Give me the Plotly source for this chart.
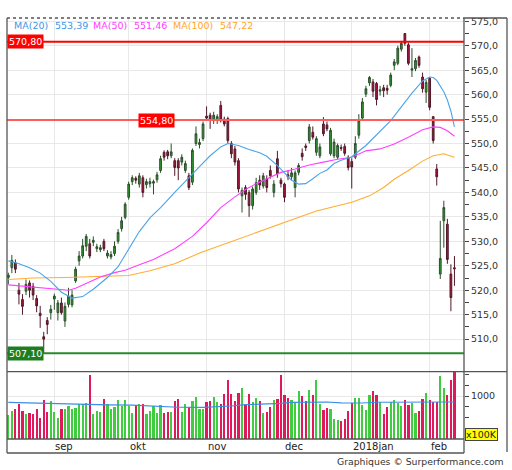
import pandas as pd
import plotly.graph_objects as go

# trading days (Euronext calendar), 15 Aug 2017 .. 12 Feb 2018
dates = [
    d.strftime("%Y-%m-%d")
    for d in pd.bdate_range("2017-08-15", "2018-02-12")
    if d.strftime("%Y-%m-%d") not in ("2017-12-25", "2017-12-26", "2018-01-01")
]

opens = [
    522.6, 524.6, 525.6, 520.0, 518.1, 519.8, 521.5, 520.8, 518.3, 515.3,
    510.5, 513.8, 515.4, 518.2, 515.4, 517.4, 513.7, 517.1, 517.0, 521.9,
    526.0, 527.0, 529.0, 529.5, 529.8, 528.5, 528.3, 530.0, 527.0, 526.8,
    527.5, 530.0, 532.6, 534.9, 539.0, 542.2, 542.9, 541.7, 543.0, 541.6,
    541.8, 541.9, 542.6, 544.5, 548.2, 548.3, 547.5, 546.5, 546.5, 546.2,
    544.5, 543.4, 542.1, 550.0, 549.8, 551.0, 555.6, 555.8, 555.0, 554.8,
    557.8, 555.0, 555.1, 550.0, 548.9, 546.5, 539.3, 541.0, 540.0, 537.3,
    540.0, 542.5, 541.3, 542.8, 544.5, 540.0, 546.9, 542.5, 541.7, 543.6,
    543.2, 541.0, 544.1, 548.0, 549.5, 550.6, 552.3, 548.2, 547.5, 554.0,
    553.8, 547.9, 547.5, 547.2, 549.2, 549.4, 547.2, 546.3, 547.2, 551.7,
    555.2, 560.1, 562.4, 562.6, 562.3, 560.7, 561.4, 561.3, 561.9, 566.0,
    566.4, 569.3, 572.5, 570.2, 565.0, 565.3, 567.7, 563.6, 560.5, 563.3,
    555.5, 544.8, 523.3, 534.2, 533.5, 523.3, 524.6,
]
highs = [
    523.6, 527.2, 526.3, 521.5, 519.2, 522.2, 522.0, 521.5, 519.0, 516.8,
    511.5, 514.5, 517.0, 519.3, 518.0, 518.5, 517.5, 520.5, 520.0, 524.8,
    528.0, 530.5, 531.5, 530.5, 531.0, 529.5, 529.3, 530.5, 528.2, 528.0,
    530.0, 532.5, 535.0, 538.0, 542.2, 543.5, 543.3, 544.0, 543.5, 542.8,
    543.0, 542.6, 544.2, 547.5, 548.6, 548.7, 550.0, 547.0, 547.0, 547.8,
    546.5, 544.0, 549.0, 553.5, 551.0, 554.5, 557.6, 556.3, 556.5, 556.0,
    558.7, 555.5, 555.5, 550.5, 549.5, 547.0, 541.0, 541.5, 540.5, 541.2,
    543.0, 543.5, 544.0, 543.5, 545.5, 542.5, 548.5, 543.0, 542.0, 544.5,
    545.0, 544.5, 546.0, 549.0, 550.0, 554.0, 553.5, 551.5, 550.0, 555.4,
    554.5, 553.2, 551.0, 550.0, 549.8, 550.0, 547.6, 547.0, 551.5, 556.0,
    559.3, 561.8, 563.8, 563.2, 562.6, 561.8, 562.0, 562.0, 564.5, 567.3,
    570.0, 571.0, 572.6, 570.6, 569.5, 567.5, 568.0, 564.5, 563.0, 563.6,
    555.6, 545.8, 534.2, 538.3, 534.6, 525.3, 527.0,
]
lows = [
    521.2, 523.5, 523.5, 517.1, 515.0, 519.0, 518.5, 518.0, 515.5, 512.3,
    507.1, 511.0, 514.0, 516.0, 513.8, 515.0, 512.5, 516.5, 516.5, 521.5,
    525.0, 526.5, 528.0, 526.5, 529.0, 527.8, 527.8, 528.0, 526.5, 526.3,
    527.0, 529.5, 532.0, 534.5, 538.5, 541.5, 541.8, 541.0, 539.0, 540.8,
    541.0, 539.6, 542.0, 544.0, 546.5, 546.8, 547.0, 543.4, 542.5, 545.5,
    544.0, 540.5, 541.5, 549.5, 549.0, 550.5, 555.0, 553.0, 554.0, 554.0,
    554.3, 553.5, 550.0, 547.0, 545.5, 540.0, 535.9, 538.5, 535.0, 536.5,
    539.5, 540.5, 540.8, 540.0, 542.8, 539.0, 543.0, 541.0, 538.0, 542.5,
    542.5, 539.0, 543.5, 546.5, 548.5, 550.0, 550.8, 547.5, 547.0, 551.5,
    552.5, 547.5, 547.0, 546.8, 548.5, 547.5, 544.5, 540.8, 546.8, 551.0,
    554.8, 559.5, 561.8, 559.5, 557.8, 559.8, 559.5, 560.0, 561.5, 565.0,
    566.0, 568.8, 570.0, 566.0, 563.6, 564.8, 565.5, 560.4, 558.3, 556.8,
    550.0, 541.4, 522.3, 528.7, 525.4, 515.7, 520.9,
]
closes = [
    523.1, 526.1, 524.3, 519.2, 516.7, 521.2, 520.0, 519.0, 516.8, 514.8,
    510.0, 513.0, 516.1, 518.8, 517.4, 515.4, 516.7, 518.8, 519.0, 524.3,
    527.0, 529.1, 531.0, 527.0, 530.2, 528.9, 528.7, 528.5, 527.6, 527.3,
    529.0, 531.8, 534.2, 537.6, 541.7, 543.0, 542.5, 543.4, 540.0, 542.2,
    542.2, 542.2, 543.6, 546.9, 547.2, 547.5, 548.3, 545.1, 545.0, 547.2,
    545.9, 541.0, 548.6, 552.0, 550.2, 554.0, 555.2, 554.7, 555.8, 555.5,
    554.7, 554.0, 550.6, 547.9, 546.2, 540.7, 540.4, 539.6, 537.3, 540.7,
    542.0, 541.5, 543.4, 541.0, 543.4, 541.7, 543.8, 541.8, 539.0, 543.2,
    544.0, 544.0, 545.5, 547.3, 549.2, 553.4, 551.3, 551.0, 549.3, 552.0,
    553.0, 552.7, 550.3, 549.6, 549.0, 548.0, 545.1, 545.2, 550.0, 554.7,
    558.5, 561.2, 563.5, 560.7, 559.0, 561.0, 560.8, 560.9, 564.0, 566.7,
    569.5, 570.5, 570.5, 566.4, 565.3, 567.0, 566.0, 561.2, 562.5, 557.4,
    550.6, 543.2, 526.5, 536.9, 526.3, 518.5, 524.4,
]

# volume, x100K
volumes = [
    558, 659, 705, 830, 659, 597, 620, 581, 698, 504,
    923, 636, 884, 636, 504, 698, 713, 768, 713, 736,
    830, 814, 853, 1489, 597, 659, 636, 946, 830, 713,
    752, 923, 768, 923, 768, 620, 806, 830, 830, 597,
    659, 768, 620, 806, 620, 636, 636, 892, 946, 636,
    830, 752, 892, 985, 713, 713, 868, 892, 985, 868,
    830, 1062, 1372, 1062, 884, 1086, 1202, 830, 1062, 868,
    969, 892, 612, 636, 752, 907, 946, 1489, 1039, 969,
    923, 845, 1116, 1000, 892, 1140, 1023, 1372, 830, 690,
    736, 713, 465, 442, 419, 481, 659, 845, 969, 969,
    791, 674, 1039, 1116, 1039, 868, 581, 752, 868, 907,
    845, 768, 923, 806, 845, 620, 659, 930, 1077, 907,
    868, 868, 1473, 1194, 1039, 1372, 1566,
]

# moving averages: (day index, value)
ma20_idx = [0, 3, 6, 9, 12, 15, 18, 21, 24, 28, 31, 34, 37, 40, 43, 47, 51, 54, 57,
            60, 62, 65, 68, 71, 73, 76, 78, 80, 82, 84, 86, 88, 90, 92, 94, 97, 101,
            104, 108, 111, 114, 117, 119, 120, 121, 123, 124, 125, 126]
ma20_val = [526.0, 525.4, 524.6, 523.5, 521.8, 519.6, 518.4, 518.7, 520.2, 522.6,
            524.8, 528.5, 532.0, 534.8, 536.9, 540.0, 543.1, 545.3, 547.5, 549.3,
            550.0, 549.6, 548.8, 548.1, 547.4, 545.5, 544.0, 542.5, 541.7, 541.8,
            542.8, 543.9, 544.6, 545.9, 546.6, 547.3, 549.6, 551.8, 554.7, 557.5,
            560.3, 562.8, 563.6, 563.5, 562.9, 560.6, 558.9, 556.6, 553.4]
ma50_idx = [0, 3, 7, 11, 15, 17, 19, 22, 26, 30, 33, 37, 41, 47, 52, 56, 60, 64, 67,
            70, 74, 77, 81, 85, 89, 93, 97, 99, 101, 105, 109, 113, 117, 120, 122,
            124, 126]
ma50_val = [521.1, 520.9, 520.6, 520.3, 520.0, 520.0, 520.4, 521.4, 522.7, 523.6,
            524.1, 525.2, 526.3, 528.5, 531.0, 533.8, 536.9, 539.1, 540.6, 541.8,
            543.1, 544.1, 544.8, 545.6, 546.2, 546.8, 547.2, 547.9, 548.5, 548.9,
            549.9, 551.3, 552.8, 553.4, 553.3, 552.6, 551.5]
ma100_idx = [0, 7, 16, 26, 34, 40, 47, 54, 62, 68, 72, 78, 87, 97, 102, 106, 109,
             113, 117, 120, 123, 126]
ma100_val = [522.2, 522.5, 522.6, 522.8, 523.0, 524.0, 525.4, 527.6, 529.7, 531.2,
             532.2, 533.9, 536.2, 538.0, 539.3, 541.0, 542.7, 544.5, 546.4, 547.5,
             547.9, 547.2]
vol_avg_idx = [0, 4, 8, 13, 17, 21, 28, 35, 40, 44, 48, 55, 60, 63, 67, 71, 74, 77,
               80, 86, 90, 94, 100, 104, 110, 126]
vol_avg_val = [853, 845, 829, 822, 810, 800, 795, 790, 775, 752, 738, 736, 745, 767,
               800, 810, 816, 829, 850, 855, 860, 840, 837, 855, 860, 860]

month_idx = [13, 34, 56, 78, 97, 119]
month_labels = ["sep", "okt", "nov", "dec", "2018jan", "feb"]
price_ticks = [510, 515, 520, 525, 530, 535, 540, 545, 550, 555, 560, 565, 570, 575]

levels = [570.80, 554.80, 507.10]
legend = [("MA(20)", "553,39", "#3d97e6"), ("MA(50)", "551,46", "#ff3cff"),
          ("MA(100)", "547,22", "#ffa726")]

FONT = "DejaVu Sans"
GRID = "#e8e8e8"
FRAME = "#555555"


def px_x(px):
    return (px - 7) / 457


def px_y(py):
    return (453 - py) / 435


vol_colors = ["#3fcc3f" if c >= o else "#e0195c" for o, c in zip(opens, closes)]

fig = go.Figure()
fig.add_trace(
    go.Candlestick(
        x=dates, open=opens, high=highs, low=lows, close=closes,
        increasing=dict(fillcolor="#2f9c2f", line=dict(color="#2a4f2a", width=1)),
        decreasing=dict(fillcolor="#b0123f", line=dict(color="#4f1a28", width=1)),
        whiskerwidth=0, xaxis="x", yaxis="y",
    )
)
for idx, val, col in [
    (ma100_idx, ma100_val, "#ffad33"),
    (ma50_idx, ma50_val, "#ff40ff"),
    (ma20_idx, ma20_val, "#4aa3e8"),
]:
    fig.add_trace(
        go.Scatter(x=[dates[i] for i in idx], y=val, mode="lines",
                   line=dict(color=col, width=1.1), xaxis="x", yaxis="y")
    )
fig.add_trace(
    go.Bar(x=dates, y=volumes, marker_color=vol_colors, marker_line_width=0,
           width=0.62, xaxis="x2", yaxis="y2")
)
fig.add_trace(
    go.Scatter(x=[dates[i] for i in vol_avg_idx], y=vol_avg_val, mode="lines",
               line=dict(color="#3a8ee6", width=1.2), xaxis="x2", yaxis="y2")
)

month_dates = [dates[i] for i in month_idx]
xcommon = dict(
    type="category", categoryorder="array", categoryarray=dates,
    range=[-0.37, 128.7], tickvals=month_dates, showticklabels=False,
    showgrid=True, gridcolor=GRID, gridwidth=1, zeroline=False, ticks="",
    showline=False, fixedrange=True,
)
fig.update_layout(
    width=512, height=470, autosize=False,
    margin=dict(l=7, r=48, t=18, b=17),
    paper_bgcolor="white", plot_bgcolor="white",
    showlegend=False, bargap=0,
    font=dict(family=FONT, size=10, color="#333333"),
    xaxis=dict(anchor="y", rangeslider=dict(visible=False), **xcommon),
    xaxis2=dict(anchor="y2", matches="x", **xcommon),
    yaxis=dict(
        domain=[px_y(371.7), 1], range=[503.34, 575.67], side="right",
        tickvals=price_ticks,
        ticktext=[f"{v:.1f}".replace(".", ",") for v in price_ticks],
        ticks="outside", ticklen=4, tickcolor="#444", tickfont=dict(size=9.5),
        minor=dict(tickvals=[v + 2.5 for v in price_ticks], ticks="outside",
                   ticklen=4, tickcolor="#444", showgrid=False),
        showgrid=True, gridcolor=GRID, zeroline=False, fixedrange=True,
    ),
    yaxis2=dict(
        domain=[px_y(439), px_y(371.7)], range=[0, 1565], side="right",
        tickvals=[1000], ticktext=["1000"],
        ticks="outside", ticklen=4, tickcolor="#444", tickfont=dict(size=9.5),
        minor=dict(tickvals=[250, 500, 750, 1250, 1500], ticks="outside",
                   ticklen=4, tickcolor="#444", showgrid=False),
        showgrid=True, gridcolor=GRID, zeroline=False, fixedrange=True,
    ),
)

# price levels
lvl_styles = [("#ff0000", 2), ("#ff5c5c", 2), ("#2a8a2a", 2)]
for lvl, (col, w) in zip(levels, lvl_styles):
    fig.add_shape(type="line", xref="x domain", yref="y", x0=0, x1=1, y0=lvl, y1=lvl,
                  line=dict(color=col, width=w))
box_pos = [(0, "left", "#ff0000"), (px_x(175), "right", "#ff0000"),
           (0, "left", "#1e7d1e")]
for lvl, (bx, anchor, bg) in zip(levels, box_pos):
    fig.add_annotation(x=bx, xref="paper", xanchor=anchor, y=lvl, yref="y",
                       yanchor="middle", text=f"{lvl:.2f}".replace(".", ","),
                       showarrow=False, bgcolor=bg, borderpad=1,
                       font=dict(color="white", size=9.5))

# frame
frame = [
    (0, 1, 1, 1, "dot"), (1, px_x(507), 1, 1, "solid"),
    (0, 0, 0, 1, "solid"), (1, 1, 0, 1, "solid"),
    (px_x(507), px_x(507), px_y(452), 1, "solid"),
    (0, px_x(507), px_y(371.7), px_y(371.7), "solid"),
    (0, 1, px_y(439), px_y(439), "solid"), (0, 1, 0, 0, "solid"),
]
for x0, x1, y0, y1, dash in frame:
    fig.add_shape(type="line", xref="paper", yref="paper", x0=x0, x1=x1, y0=y0, y1=y1,
                  line=dict(color=FRAME, width=1.3, dash=dash))

# MA legend
leg_x = [12.7, 54.3, 92.3, 133.3, 172.3, 219]
for k, (name, val, col) in enumerate(legend):
    for j, txt in enumerate((name, val)):
        fig.add_annotation(x=px_x(leg_x[2 * k + j]), xref="paper", xanchor="left",
                           y=px_y(25.5), yref="paper", yanchor="middle", text=txt,
                           showarrow=False, borderpad=0, font=dict(color=col, size=9.5))

# month labels
for d, lab in zip(month_dates, month_labels):
    fig.add_annotation(x=d, xref="x", xanchor="left", y=px_y(446), yref="paper",
                       yanchor="middle", text=lab, showarrow=False, borderpad=0,
                       font=dict(size=10, color="#222"))

fig.add_annotation(x=px_x(465), xref="paper", xanchor="left", y=px_y(434.5),
                   yref="paper", yanchor="middle", text="x100K", showarrow=False,
                   bgcolor="#ffff00", bordercolor="#444", borderwidth=1, borderpad=0,
                   font=dict(size=9.5, color="#222"))
fig.add_annotation(x=px_x(506), xref="paper", xanchor="right", y=px_y(461.5),
                   yref="paper", yanchor="middle",
                   text="Graphiques © Surperformance.com", showarrow=False,
                   font=dict(size=9.3, color="#333"))

# the page body has a default 8px margin; drop it so the figure sits at the origin
fig.write_html("out.html", config={"displayModeBar": False},
               post_script="document.body.style.margin='0';")
